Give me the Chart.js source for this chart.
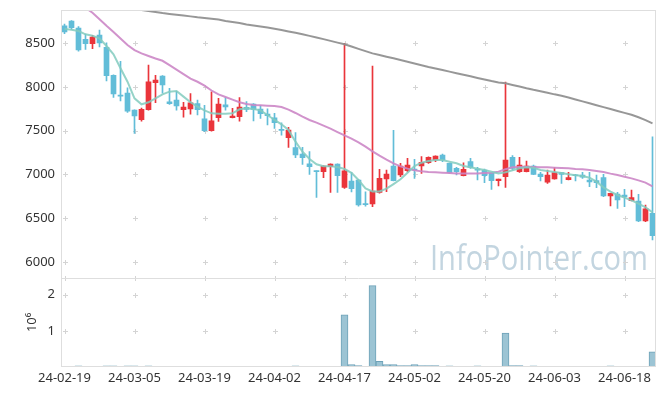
<!DOCTYPE html>
<html><head><meta charset="utf-8">
<script src="https://cdn.jsdelivr.net/npm/chart.js@4.4.1/dist/chart.umd.min.js"></script>
<style>html,body{margin:0;padding:0;background:#fff;}canvas{display:block;}</style>
</head><body>
<canvas id="c" width="665" height="396"></canvas>
<script>
const dates = ['24-02-19','24-02-20','24-02-21','24-02-22','24-02-23','24-02-26','24-02-27','24-02-28','24-02-29','24-03-04',
'24-03-05','24-03-06','24-03-07','24-03-08','24-03-11','24-03-12','24-03-13','24-03-14','24-03-15','24-03-18',
'24-03-19','24-03-20','24-03-21','24-03-22','24-03-25','24-03-26','24-03-27','24-03-28','24-03-29','24-04-01',
'24-04-02','24-04-03','24-04-04','24-04-05','24-04-08','24-04-09','24-04-11','24-04-12','24-04-15','24-04-16',
'24-04-17','24-04-18','24-04-19','24-04-22','24-04-23','24-04-24','24-04-25','24-04-26','24-04-29','24-04-30',
'24-05-02','24-05-03','24-05-07','24-05-08','24-05-09','24-05-10','24-05-13','24-05-14','24-05-16','24-05-17',
'24-05-20','24-05-21','24-05-22','24-05-23','24-05-24','24-05-27','24-05-28','24-05-29','24-05-30','24-05-31',
'24-06-03','24-06-04','24-06-05','24-06-07','24-06-10','24-06-11','24-06-12','24-06-13','24-06-14','24-06-17',
'24-06-18','24-06-19','24-06-20','24-06-21','24-06-24'];

const openP = [8700,8755,8675,8545,8495,8595,8455,8135,7905,7930,
7735,7625,7740,8050,8125,7830,7850,7740,7750,7810,
7635,7500,7650,7795,7650,7660,7768,7806,7748,7690,
7648,7515,7420,7306,7234,7120,7040,7032,7088,7118,
6850,6925,6936,6662,6662,6795,6948,7096,6993,7043,
7060,7096,7134,7165,7222,7127,7070,6986,7146,7062,
7050,7012,6928,6974,7196,7032,7032,7096,7005,6910,
6948,7020,6940,6994,6993,6936,6929,6963,6753,6776,
6765,6700,6696,6467,6555];
const highP = [8720,8760,8690,8605,8590,8650,8505,8140,8295,7990,
7740,7760,8250,8135,8130,7985,7950,7825,7925,7850,
7790,7945,7870,7880,7755,7880,7832,7810,7790,7750,
7700,7590,7540,7478,7310,7260,7042,7098,7120,7122,
8500,7025,6940,6800,8240,7058,7050,7505,7127,7184,
7173,7203,7200,7212,7233,7130,7081,7134,7185,7081,
7062,7015,6948,8055,7215,7196,7154,7108,7024,7050,
7077,7024,7024,7001,7024,7024,6993,7001,6785,6795,
6829,6822,6772,6650,7430];
const lowP = [8610,8660,8410,8430,8440,8460,8070,7880,7840,7710,
7470,7610,7735,7820,7930,7800,7735,7655,7690,7680,
7490,7495,7605,7735,7645,7610,7718,7612,7640,7565,
7527,7450,7310,7192,7115,7000,6738,6963,6795,6795,
6840,6800,6638,6638,6630,6785,6803,6925,6975,7030,
6955,7012,7127,7146,7146,7012,6993,6982,7070,6936,
6906,6829,6868,6852,7050,7024,7030,6998,6925,6898,
6945,6898,6938,6925,6955,6860,6849,6745,6639,6612,
6631,6696,6460,6460,6250];
const closeP = [8630,8680,8425,8495,8572,8503,8130,7920,7895,7725,
7670,7745,8058,8080,8025,7810,7785,7770,7820,7740,
7500,7613,7806,7772,7668,7770,7745,7745,7695,7672,
7592,7503,7508,7222,7192,7090,7032,7096,7118,6986,
7040,6837,6650,6655,6810,6955,7005,6928,7096,7108,
7050,7138,7195,7211,7165,7020,7031,7058,7081,7050,
6986,6928,6947,7165,7070,7108,7096,7001,6974,6993,
7020,7001,6963,6985,6970,6913,6906,6753,6784,6707,
6742,6734,6467,6605,6300];

const ma5 = [8664,8656,8641,8603,8587,8557,8469,8374,8214,8061,
7870,7802,7825,7870,7916,7947,7954,7890,7825,7775,
7732,7699,7695,7695,7699,7745,7756,7748,7733,7680,
7623,7573,7508,7375,7260,7177,7116,7093,7093,7085,
7062,7018,6936,6841,6806,6806,6837,6890,6944,7020,
7096,7134,7153,7165,7165,7146,7127,7096,7081,7066,
7050,7031,7012,7024,7047,7070,7081,7077,7051,7039,
7028,7016,7001,6990,6982,6963,6917,6852,6803,6765,
6734,6704,6666,6624,6566];
const ma20 = [null,null,null,8905,8850,8775,8700,8630,8555,8480,
8423,8385,8355,8326,8300,8250,8200,8148,8095,8060,
8015,7960,7916,7886,7855,7825,7806,7794,7790,7787,
7783,7771,7741,7703,7661,7623,7592,7558,7523,7485,
7447,7409,7367,7317,7264,7214,7169,7127,7092,7066,
7047,7035,7028,7024,7020,7016,7012,7012,7012,7012,
7016,7020,7031,7060,7081,7085,7089,7085,7081,7081,
7077,7073,7070,7062,7058,7051,7039,7028,7009,6993,
6974,6955,6932,6906,6864];
const ma60 = [null,null,null,null,null,null,null,null,null,null,
8895,8880,8870,8858,8846,8836,8827,8817,8808,8798,
8790,8782,8773,8756,8745,8732,8716,8705,8693,8680,
8666,8652,8636,8620,8604,8585,8567,8548,8528,8508,
8489,8463,8436,8410,8385,8366,8347,8328,8309,8290,
8270,8250,8230,8212,8194,8176,8158,8140,8122,8104,
8086,8068,8052,8042,8024,8006,7986,7968,7952,7934,
7916,7900,7880,7858,7836,7814,7792,7770,7748,7726,
7704,7682,7654,7622,7584];

const volume = [0,0,35000,0,0,0,35000,35000,0,35000,
35000,0,35000,0,0,0,0,0,0,0,
0,0,0,0,0,0,0,0,0,0,
0,0,0,30000,0,0,0,0,0,0,
1440000,70000,40000,0,2250000,160000,70000,70000,40000,40000,
70000,40000,40000,40000,0,35000,0,0,0,35000,
0,0,0,940000,40000,40000,0,35000,0,0,
0,0,0,0,0,0,0,0,35000,0,
0,0,0,0,420000];

const priceTicks = [6000,6500,7000,7500,8000,8500];
const volTicks = [1000000,2000000];
const watermark = 'InfoPointer.com';

const UP = '#ea353b', DOWN = '#62bdd8';
const candleColors = openP.map((o,i) => closeP[i] >= o ? UP : DOWN);
const bodies = openP.map((o,i) => [Math.min(o, closeP[i]), Math.max(o, closeP[i])]);
const wicks = lowP.map((l,i) => [l, highP[i]]);

const decor = {
  id: 'decor',
  beforeDatasetsDraw(chart) {
    const {ctx, chartArea: a, scales} = chart;
    const x = scales.x, y = scales.y, yv = scales.yv;
    ctx.save();
    ctx.font = '35px "Open Sans"';
    ctx.fillStyle = '#c3d5e0';
    ctx.textAlign = 'left';
    ctx.textBaseline = 'alphabetic';
    const w = ctx.measureText(watermark).width;
    const target = 218;
    ctx.translate(a.right - 8 - target, y.bottom - 8);
    ctx.scale(target / w, 1);
    ctx.fillText(watermark, 0, 0);
    ctx.restore();
    ctx.save();
    ctx.strokeStyle = '#d4d4d4';
    ctx.lineWidth = 1;
    const cols = [];
    dates.forEach((d,i) => { if (i % 10 === 0) cols.push(Math.round(x.getPixelForValue(i)) + 0.5); });
    const rows = priceTicks.map(v => y.getPixelForValue(v)).concat(volTicks.map(v => yv.getPixelForValue(v)), [yv.top]);
    ctx.beginPath();
    cols.forEach(px => rows.forEach(r => {
      const py = Math.round(r) + 0.5;
      ctx.moveTo(px - 2.5, py); ctx.lineTo(px + 2.5, py);
      ctx.moveTo(px, py - 2.5); ctx.lineTo(px, py + 2.5);
    }));
    ctx.stroke();
    ctx.restore();
  },
  afterDatasetsDraw(chart) {
    const {ctx, chartArea: a, scales} = chart;
    ctx.save();
    ctx.strokeStyle = '#dedede';
    ctx.lineWidth = 1;
    ctx.strokeRect(Math.round(a.left) + 0.5, Math.round(a.top) + 0.5, Math.round(a.right - a.left) - 1, Math.round(a.bottom - a.top) - 1);
    const sy = Math.round(scales.yv.top) + 0.5;
    ctx.beginPath(); ctx.moveTo(a.left, sy); ctx.lineTo(a.right, sy); ctx.stroke();
    ctx.restore();
  }
};

Chart.defaults.font.family = '"Noto Sans", sans-serif';
Chart.defaults.font.size = 13;
Chart.defaults.color = '#333';

function fixY(s) { s.width = 61; s.paddingTop = 0; s.paddingBottom = 0; }

new Chart(document.getElementById('c'), {
  data: {
    labels: dates,
    datasets: [
      {type:'line', label:'MA5', data: ma5, yAxisID:'y', borderColor:'rgba(130,203,190,0.85)', borderWidth:2, pointRadius:0, order:0},
      {type:'line', label:'MA20', data: ma20, yAxisID:'y', borderColor:'rgba(204,135,198,0.9)', borderWidth:2, pointRadius:0, order:0},
      {type:'line', label:'MA60', data: ma60, yAxisID:'y', borderColor:'rgba(145,145,145,0.95)', borderWidth:2, pointRadius:0, order:0},
      {type:'bar', label:'body', data: bodies, yAxisID:'y', backgroundColor: candleColors, barThickness:5, minBarLength:1, grouped:false, order:1},
      {type:'bar', label:'wick', data: wicks, yAxisID:'y', backgroundColor: candleColors, barThickness:1, grouped:false, order:2},
      {type:'bar', label:'volume', data: volume, yAxisID:'yv', backgroundColor:'#9cc4d4', borderColor:'#6ea2b8', borderWidth:1, barPercentage:1, categoryPercentage:1, grouped:false, order:3}
    ]
  },
  options: {
    responsive:false, animation:false,
    layout:{padding:{top:10, right:9, left:0, bottom:0}},
    plugins:{legend:{display:false}, tooltip:{enabled:false}},
    scales:{
      x:{type:'category', offset:true, grid:{display:false, drawTicks:false}, border:{display:false},
         ticks:{autoSkip:false, maxRotation:0, minRotation:0, padding:3, color:'#333',
                callback:(v,i) => (i % 10 === 0 ? dates[i] : null)},
         afterFit(s){ s.height = 29; }},
      yv:{type:'linear', position:'left', stack:'main', stackWeight:1, min:0, max:2467000,
          grid:{display:false, drawTicks:false}, border:{display:false},
          afterBuildTicks(s){ s.ticks = volTicks.map(v => ({value:v})); },
          ticks:{padding:6, color:'#333', callback:(v) => String(v / 1000000)},
          title:{display:true, text:'10⁶', color:'#333', padding:{top:24, bottom:0}, font:{size:13}},
          afterFit: fixY},
      y:{type:'linear', position:'left', stack:'main', stackWeight:3, min:5818, max:8881,
         grid:{display:false, drawTicks:false}, border:{display:false},
         afterBuildTicks(s){ s.ticks = priceTicks.map(v => ({value:v})); },
         ticks:{padding:6, color:'#333', callback:(v) => String(v)},
         afterFit: fixY}
    }
  },
  plugins:[decor]
});
</script>
</body></html>
